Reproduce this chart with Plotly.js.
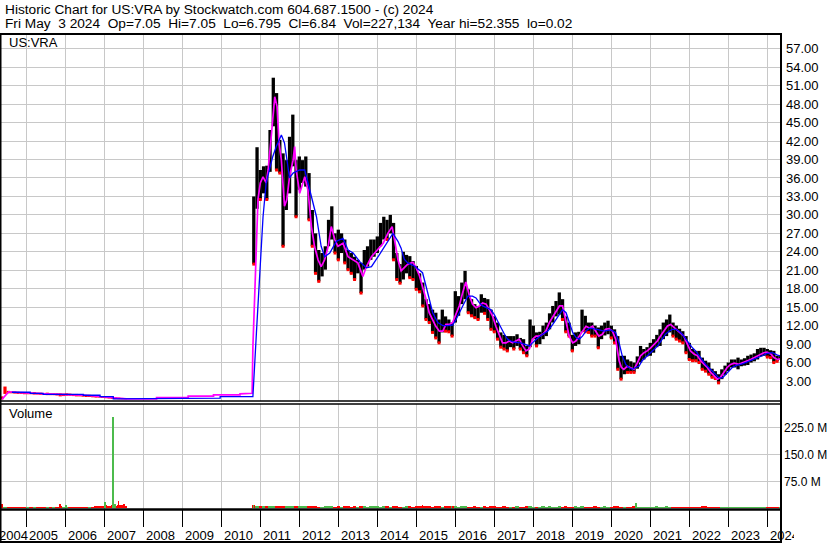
<!DOCTYPE html>
<html><head><meta charset="utf-8">
<script src="https://cdn.plot.ly/plotly-3.0.1.min.js"></script>
<style>html,body{margin:0;padding:0;background:#fff}#chart{width:830px;height:543px}</style>
</head><body><div id="chart"></div>
<script>
// ---------------- data ----------------
const headerLine1 = 'Historic Chart for US:VRA by Stockwatch.com 604.687.1500 - (c) 2024';
const headerLine2 = 'Fri May\u00a0 3 2024\u00a0 Op=7.05\u00a0 Hi=7.05\u00a0 Lo=6.795\u00a0 Cl=6.84\u00a0 Vol=227,134\u00a0 Year hi=52.355\u00a0 lo=0.02';
const symbolLabel = 'US:VRA';
const volumeLabel = 'Volume';

// early monthly ranges, first month at t=2004.37, one per month
const earlyT0 = 2004.37;
const earlyHigh = [0.5,2.1,1.4,1.3,1.3,1.25,1.2,1.2,
  1.2,1.15,1.2,1.1,1.1,1.05,1.1,1.0,1.0,1.0,1.0,0.95,
  1.0,0.95,0.9,0.9,0.8,0.8,0.75,0.75,0.7,0.65,0.6,0.55,
  0.5,0.45,0.4,0.35,0.3,0.25,0.2];
const earlyLow = [0.0,0.9,1.0,1.0,0.95,0.9,0.9,0.85,
  0.85,0.85,0.8,0.8,0.75,0.75,0.7,0.7,0.7,0.65,0.5,0.55,
  0.6,0.6,0.55,0.5,0.5,0.45,0.4,0.4,0.35,0.3,0.3,0.25,
  0.2,0.15,0.1,0.05,0.02,0.02,0.02];
const earlyVol = [5,4,4,3,4,3,4,3, 4,3,3,4,3,4,3,3,4,3,6,4, 4,3,3,4,3,3,4,3,4,6,5,6, 8,7,8,7,9,8,6];

// main monthly ranges, first month at t=2010.833
const mainT0 = 2010.833;
const mainHigh = [33,41,
  37.3,37.9,38,43.8,52.3,49.8,42.2,40,38.9,42.7,46.3,38.9,
  39.5,38.9,39.5,36.8,30.8,27,24.3,23.8,24.9,29.2,31.4,27,
  27.6,27,26,24.3,23.8,23.2,22.7,22.2,24.3,24.9,26,26,
  26.5,28.7,29.7,29.2,30,28.7,23.8,22,24,23.5,23.3,22.5,
  21.7,20.5,19,16.3,15.5,14.6,14.1,13,14.6,13.5,13,12.5,
  17.6,16.8,19,20.9,17.9,16.3,15.5,15.2,17.1,16.5,16.3,14.6,
  13.5,12.5,10.9,10.5,10.3,10.3,10.3,10.6,10,9.8,8.7,13,
  12,10.9,11,12,12.5,14,15.2,16,17.4,16.3,13.5,12.5,
  10.5,10.9,11,14.6,13.6,12.5,12.5,12,11.7,12,12.5,12.8,
  12,11.4,10.3,7.1,7.1,6.5,6.2,6,7,8.7,8.2,8.5,
  9.2,9.8,10.5,11.4,12.5,13,13.8,12.5,12,11.5,11.1,10.3,
  9.2,8.2,7.9,7.9,6.8,6.3,6,5,4.6,4.1,4.9,5.5,
  6,6.5,6.5,6.8,6.5,6.7,7.1,7.3,7.5,8.2,8.4,8.4,
  8.2,8.0,7.9,7.1,7.05];
const mainLow = [22,31,
  32.5,33.5,32.5,37,44.4,37.3,36.8,24.9,30.8,33.5,37.9,29.7,
  34.1,35.2,34.6,29.2,24.9,20.5,19.2,20,21.1,24.9,26,23.8,
  22.7,23.8,22.2,21.1,20.5,19.5,20.5,17.3,21.1,21.6,22.7,23.2,
  23.8,24.9,26,26,27,22.7,19.5,18.9,19.5,20.5,19.8,19.5,
  17.9,17.5,15.2,13,12.5,10.9,10,9.2,10.9,11.1,11,10.3,
  12.5,13.6,15.5,16.3,14.1,13.6,13.3,13,14.1,14,13,11.4,
  11,9.8,8.5,8.2,7.9,8.5,8.2,8.7,8.2,7.6,7.1,8.5,
  9.8,8.7,9,9.8,10.3,11.4,12.5,13.5,13.8,13,11,10.3,
  7.9,8.7,9,11,11,10.9,10.3,10.3,8.4,9.8,10.4,10.6,
  10,9.2,4.9,3.3,4.1,4.4,4.4,4.4,5,6,6.5,7,
  7.1,7.6,8.5,8.7,9.8,10.3,10.9,10.3,9.8,9.5,9.2,7.6,
  6.5,6.3,6.3,6,4.9,4.6,4.1,3.6,3.4,2.7,3.3,4,
  4.6,5.2,5.2,4.9,5.4,5.5,5.6,6,6.2,6.5,7.0,7.1,
  6.9,6.8,6,6.2,6.6];
const mainVol = [9,6,
  6,5,5,6,7,6,5,7,6,5,6,5,
  5,5,6,5,7,5,4,4,5,6,5,4,
  5,4,5,5,4,5,4,5,5,4,5,5,
  5,4,5,6,4,5,5,4,4,5,5,4,
  5,5,6,5,5,4,5,5,4,5,6,5,
  5,4,5,5,4,4,5,4,4,5,4,5,
  5,4,4,5,4,4,4,5,4,4,5,5,
  4,4,4,5,4,5,4,4,5,4,5,4,
  4,5,4,5,4,4,4,5,4,4,5,4,
  4,5,5,4,4,4,4,5,4,4,4,4,
  4,4,5,4,4,5,4,4,4,4,4,4,
  4,4,4,4,5,5,4,4,4,4,4,4,
  4,4,4,4,4,4,4,4,4,4,4,4,
  4,4,4,4,4];

// single-day volume spikes (time in years, millions, up/down)
const spikeT = [2004.38,2005.86,2006.02,2007.02,2007.22,2007.28,2007.36,2007.50,2010.82,2015.16,2015.90,2020.63,2022.42];
const spikeVol = [12,12,8,18,255,12,20,12,9,9,7,14,6.5];
const spikeUp = [0,0,1,1,1,1,0,0,1,0,1,1,0];

// fast moving average (magenta)
const fastT = [2004.38,2004.55,2004.75,2005.0,2005.5,2006.0,2006.5,2007.0,2007.57,2008.34,2008.34,2009.15,2009.15,2009.8,2009.8,2010.48,2010.48,2010.79,
  2010.81,2010.85,2010.9,2010.94,2011.0,2011.07,2011.15,2011.2,2011.28,2011.37,2011.43,2011.48,2011.54,2011.58,2011.62,2011.68,2011.75,2011.84,2011.88,2011.92,
  2012.01,2012.14,2012.22,2012.31,2012.39,2012.48,2012.56,2012.65,2012.74,2012.82,2012.91,2012.99,2013.12,2013.25,2013.38,2013.5,2013.63,2013.72,2013.85,2013.93,
  2014.02,2014.15,2014.27,2014.38,2014.44,2014.53,2014.61,2014.69,2014.78,2014.91,2014.99,2015.08,2015.16,2015.25,2015.33,2015.42,2015.5,2015.59,2015.68,2015.76,2015.85,2015.93,
  2016.02,2016.1,2016.19,2016.27,2016.36,2016.44,2016.53,2016.62,2016.7,2016.79,2016.87,2016.96,2017.04,2017.13,2017.21,2017.3,2017.38,2017.47,2017.56,2017.64,2017.73,2017.81,2017.9,2017.98,
  2018.07,2018.15,2018.24,2018.32,2018.41,2018.54,2018.67,2018.75,2018.84,2018.92,2019.01,2019.09,2019.18,2019.26,2019.35,2019.44,2019.52,2019.6,2019.68,2019.77,2019.85,2019.94,
  2020.03,2020.11,2020.15,2020.2,2020.26,2020.32,2020.41,2020.5,2020.58,2020.67,2020.75,2020.84,2020.92,2021.01,2021.09,2021.18,2021.26,2021.35,2021.44,2021.52,2021.61,2021.69,2021.78,2021.86,2021.95,
  2022.03,2022.12,2022.21,2022.29,2022.38,2022.46,2022.55,2022.63,2022.72,2022.8,2022.89,2022.97,2023.06,2023.15,2023.27,2023.36,2023.49,2023.57,2023.66,2023.74,2023.83,2023.91,2023.99,2024.09,2024.17,2024.26,2024.34];
const fastV = [0.05,1.25,1.15,1.05,0.92,0.8,0.68,0.4,0.08,0.08,0.3,0.3,0.55,0.55,0.75,0.75,0.9,1.0,
  8.6,15.7,24.9,32.5,35.2,36.2,35.2,37.3,42.7,49.2,47.6,41.7,38.9,34.6,31.4,32.5,36.2,38.9,41.1,37.3,
  33.5,36.2,34.1,28.1,24.9,22.7,21.6,22.7,24.9,28.1,26,24.9,25.4,23.2,22.7,22.2,20,21.6,23.2,23.8,
  24.3,25.4,27,28.1,26,22.7,20.9,21.5,22.0,22.3,21.5,20.1,18.4,16.3,14.1,13.0,11.9,11.1,11.1,12.2,12.2,12.5,
  13.9,15.2,17.4,19.1,16.9,15.5,14.9,15.2,15.7,15.5,14.6,13.5,11.9,10.3,9.2,9.2,9.5,9.2,9.5,9.8,8.7,7.9,8.2,9.8,
  10.3,10.3,10.6,11.1,12.5,13.8,15.2,15.2,12.5,10.3,9.2,9.5,10.3,11.1,11.9,11.6,11.9,11.1,10.3,10.6,11.4,11.5,
  11.1,9.8,7.9,6.3,5.2,4.9,5.4,5.2,4.9,6.0,7.1,7.6,7.9,8.4,9.0,9.5,10.3,11.1,11.95,12.2,11.7,11.1,10.6,10.3,9.0,
  7.9,7.4,7.1,6.3,5.7,5.2,4.4,3.8,3.3,3.6,4.4,5.2,5.7,5.9,5.7,6.0,6.3,6.5,6.8,7.1,7.4,7.6,7.7,7.4,6.8,6.5,6.6];

// slow moving average (blue)
const slowT = [2004.63,2005.1,2005.1,2005.43,2005.43,2006.46,2006.46,2006.89,2006.89,2007.23,2007.23,2008.34,2008.34,2009.97,2009.97,2010.81,
  2010.9,2010.98,2011.07,2011.15,2011.24,2011.32,2011.41,2011.5,2011.54,2011.62,2011.71,2011.75,2011.84,2012.01,2012.14,2012.26,2012.44,2012.56,2012.65,2012.78,2012.95,
  2013.12,2013.25,2013.38,2013.55,2013.72,2013.85,2014.02,2014.23,2014.4,2014.53,2014.61,2014.69,2014.78,2014.95,2015.08,2015.16,2015.25,2015.33,2015.42,2015.55,2015.68,2015.8,2015.93,
  2016.02,2016.1,2016.19,2016.32,2016.44,2016.53,2016.62,2016.7,2016.79,2016.91,2017.0,2017.09,2017.17,2017.26,2017.34,2017.43,2017.51,2017.68,2017.81,2017.9,2017.98,
  2018.11,2018.24,2018.37,2018.5,2018.62,2018.75,2018.84,2018.92,2019.01,2019.09,2019.18,2019.26,2019.35,2019.44,2019.64,2019.81,2019.98,
  2020.11,2020.2,2020.28,2020.37,2020.45,2020.54,2020.62,2020.71,2020.79,2020.88,2020.97,2021.05,2021.14,2021.22,2021.31,2021.39,2021.48,2021.56,2021.65,2021.74,2021.82,2021.91,2021.99,
  2022.08,2022.16,2022.25,2022.33,2022.42,2022.5,2022.59,2022.68,2022.76,2022.85,2022.93,2023.02,2023.1,2023.19,2023.27,2023.36,2023.49,2023.62,2023.74,2023.87,2024.0,2024.13,2024.26,2024.34];
const slowV = [1.17,1.17,1.0,1.0,0.84,0.84,0.68,0.68,0.45,0.45,0.1,0.1,0.22,0.22,0.45,0.45,
  10.8,20.5,29.7,35.2,37.3,39.5,41.1,42.5,43.0,41.7,37.3,36,36.8,37.3,37.3,34.1,29.7,24.9,23.2,23.8,25.7,
  26.2,24.3,23.8,22.4,21.4,21.6,23.2,25.4,27,25.7,24.6,22.8,22.2,21.7,21.1,20.6,18.4,16.3,14.1,12.5,12.0,12.0,12.1,
  13.0,14.1,15.2,16.8,16.8,16.5,15.7,15.2,14.9,14.6,13.8,12.8,11.7,10.6,9.8,9.5,9.3,9.2,8.9,8.7,9.2,
  10.0,10.6,11.1,12.2,13.3,14.6,14.1,12.5,10.9,10.1,9.8,10.3,11.1,11.6,11.4,11.1,11.3,
  10.9,9.2,7.1,5.7,5.2,4.9,5.2,5.4,6.3,6.8,7.4,7.9,8.4,9.0,9.8,10.6,11.1,11.4,11.4,11.1,10.6,9.8,9.0,
  8.4,7.9,7.1,6.3,5.7,5.2,4.6,4.1,3.5,3.5,4.1,4.6,5.2,5.5,5.7,5.8,6.1,6.4,6.7,7.1,7.5,7.6,7.2,7.1];

const yearTicks = [2005,2006,2007,2008,2009,2010,2011,2012,2013,2014,2015,2016,2017,2018,2019,2020,2021,2022,2023,2024];
const yearLabels = ['2004','2005','2006','2007','2008','2009','2010','2011','2012','2013','2014','2015','2016','2017','2018','2019','2020','2021','2022','2023','2024'];
const priceTicks = [3,6,9,12,15,18,21,24,27,30,33,36,39,42,45,48,51,54,57];
const priceTickText = ['3.00','6.00','9.00','12.00','15.00','18.00','21.00','24.00','27.00','30.00','33.00','36.00','39.00','42.00','45.00','48.00','51.00','54.00','57.00'];
const volTicks = [75,150,225];
const volTickText = ['75.0 M','150.0 M','225.0 M'];

// ---------------- layout geometry ----------------
const W = 830, H = 543, ML = 1, MR = 49, MT = 34, MB = 34;
const PW = W - ML - MR, PH = H - MT - MB;
const px = x => (x - ML) / PW;          // pixel x -> paper
const py = y => (H - MB - y) / PH;      // pixel y -> paper
const FONT = 'Liberation Sans, Arial, sans-serif';
const GRID = '#c8c8c8';
const GREEN = '#4cbb4c', RED = '#ff0000';

function segs(t0, hi, lo) {
  const x = [], y = [];
  for (let i = 0; i < hi.length; i++) {
    const t = t0 + i / 12;
    x.push(t, t, null); y.push(lo[i], hi[i], null);
  }
  return {x, y};
}
const eS = segs(earlyT0, earlyHigh, earlyLow);
const mS = segs(mainT0, mainHigh, mainLow);
const mainT = mainHigh.map((_, i) => mainT0 + i / 12);
const earlyT = earlyHigh.map((_, i) => earlyT0 + i / 12);
function isDown(hi, lo, i) {
  if (i === 0) return true;
  return (hi[i] + lo[i]) / 2 < (hi[i-1] + lo[i-1]) / 2;
}
const dirColors = (hi, lo) => hi.map((_, i) => isDown(hi, lo, i) ? RED : GREEN);
const redX = [], redY = [];
mainHigh.forEach((_, i) => { if (isDown(mainHigh, mainLow, i)) { redX.push(mainT[i]); redY.push(mainLow[i]); } });

const traces = [
  {type:'scatter', mode:'lines', x:eS.x, y:eS.y, line:{color:RED, width:3.2}, xaxis:'x', yaxis:'y', connectgaps:false},
  {type:'scatter', mode:'lines', x:mS.x, y:mS.y, line:{color:'#000', width:3.3}, xaxis:'x', yaxis:'y', connectgaps:false},
  {type:'scatter', mode:'markers', x:redX, y:redY, marker:{color:RED, size:3, symbol:'square', line:{width:0}}, xaxis:'x', yaxis:'y'},
  {type:'scatter', mode:'lines', x:fastT, y:fastV, line:{color:'#ff00ff', width:1.7}, xaxis:'x', yaxis:'y'},
  {type:'scatter', mode:'lines', x:slowT, y:slowV, line:{color:'#0000ff', width:1.3}, xaxis:'x', yaxis:'y'},
  {type:'bar', x:earlyT, y:earlyVol, width:1/12*0.98, marker:{color:dirColors(earlyHigh, earlyLow), line:{width:0}}, xaxis:'x2', yaxis:'y2'},
  {type:'bar', x:mainT, y:mainVol, width:1/12*0.98, marker:{color:dirColors(mainHigh, mainLow), line:{width:0}}, xaxis:'x2', yaxis:'y2'},
  {type:'bar', x:spikeT, y:spikeVol, width:0.04, marker:{color:spikeUp.map(u => u ? GREEN : RED), line:{width:0}}, xaxis:'x2', yaxis:'y2'}
];

const pxPerUnit = (381 - 48.8) / 54;
const pMax = 57 + (48.8 - MT) / pxPerUnit;
const pMin = 3 - (401 - 381) / pxPerUnit;
const vPx = (508 - 481.3) / 75;
const vMax = (508 - 404) / vPx;
const vMin = -(H - MB - 508) / vPx;

const xRange = [2004.351, 2024.351];
const axisX = {range:xRange, tickvals:yearTicks, showticklabels:false, showgrid:true, gridcolor:GRID, gridwidth:1, zeroline:false, showline:false, fixedrange:true};

const L = (x0, y0, x1, y1, w) => ({type:'line', xref:'paper', yref:'paper', x0:px(x0), y0:py(y0), x1:px(x1), y1:py(y1), line:{color:'#000', width:w}});

const HF = {family:FONT, size:13.7, color:'#000'};
const annotations = [
  {text:headerLine1, x:px(3), y:py(9), xref:'paper', yref:'paper', xanchor:'left', yanchor:'middle', showarrow:false, font:HF},
  {text:headerLine2, x:px(3), y:py(24), xref:'paper', yref:'paper', xanchor:'left', yanchor:'middle', showarrow:false, font:HF},
  {text:symbolLabel, x:px(7), y:py(43), xref:'paper', yref:'paper', xanchor:'left', yanchor:'middle', showarrow:false, font:{family:FONT, size:13, color:'#000'}},
  {text:volumeLabel, x:px(7), y:py(413), xref:'paper', yref:'paper', xanchor:'left', yanchor:'middle', showarrow:false, font:{family:FONT, size:13, color:'#000'}}
];
yearLabels.forEach((lab, i) => {
  const isFirst = i === 0, isLast = i === yearLabels.length - 1;
  annotations.push({
    text: lab, xref:'x2', x: isFirst ? xRange[0] : yearTicks[i-1], yref:'paper', y: py(535),
    xanchor:'left', yanchor:'middle', xshift: isFirst ? -4 : 1, showarrow:false,
    width: isLast ? 24 : null, align:'left',
    font:{family:FONT, size:13, color:'#000'}
  });
});

const layout = {
  width:W, height:H, margin:{l:ML, r:MR, t:MT, b:MB, pad:0},
  paper_bgcolor:'#fff', plot_bgcolor:'#fff', showlegend:false, barmode:'overlay', bargap:0,
  xaxis: Object.assign({}, axisX, {anchor:'y'}),
  xaxis2: Object.assign({}, axisX, {anchor:'y2', matches:'x', ticks:'outside', ticklen:17, tickwidth:1, tickcolor:'#000'}),
  yaxis: {domain:[py(401), 1], range:[pMin, pMax], side:'right', tickvals:priceTicks, ticktext:priceTickText, ticks:'', showgrid:true, gridcolor:GRID, zeroline:false, showline:false, ticklabelstandoff:4, tickfont:{family:FONT, size:13, color:'#000'}, fixedrange:true},
  yaxis2: {domain:[0, py(404)], range:[vMin, vMax], side:'right', tickvals:volTicks, ticktext:volTickText, ticks:'', showgrid:true, gridcolor:GRID, zeroline:false, showline:false, ticklabelstandoff:2, tickfont:{family:FONT, size:12, color:'#000'}, fixedrange:true},
  shapes: [
    L(0, MT, 782, MT, 2),
    L(0.5, MT, 0.5, H, 2),
    L(781, MT, 781, H, 2),
    L(0, 401, 781, 401, 1.5),
    L(0, 404, 781, 404, 1.5),
    L(0, 509.5, 781, 509.5, 2.5),
    L(0, 542, 782, 542, 2)
  ],
  annotations: annotations,
  hovermode:false
};

Plotly.newPlot('chart', traces, layout, {staticPlot:true, displayModeBar:false});
</script></body></html>
